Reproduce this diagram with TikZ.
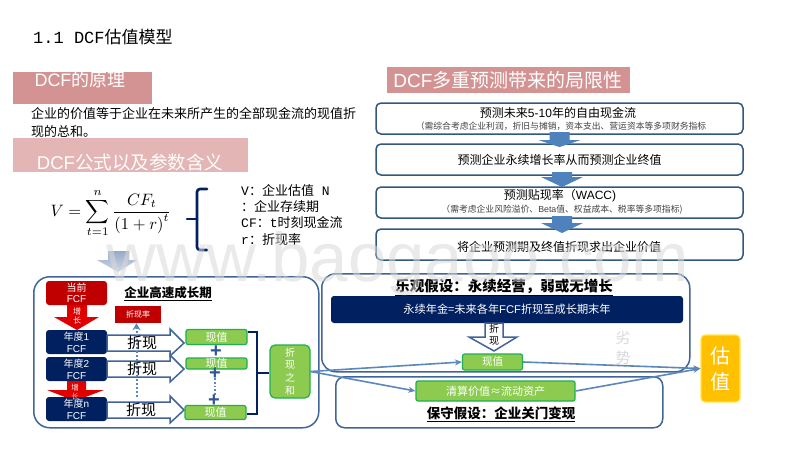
\documentclass[tikz,border=0pt]{standalone}
\usepackage{graphicx}
\usepackage{fontspec}
\setmainfont{Noto Sans CJK SC}
\newfontfamily\lat{Liberation Sans}
\newfontfamily\mon{Liberation Mono}
\newcommand{\fz}[2]{\fontsize{#1}{#2}\selectfont}
\newcommand{\la}[1]{{\lat #1}}
\newcommand{\mo}[1]{{\mon #1}}
\newcommand{\fc}{\symbol{"FF1A}}
\newcommand{\fk}{\symbol{"FF0C}}
\newcommand{\lp}{\symbol{"FF08}}
\definecolor{bannerA}{HTML}{D49393}
\definecolor{bannerB}{HTML}{E4B5B5}
\definecolor{frameblue}{HTML}{41659A}
\definecolor{procline}{HTML}{31587F}
\definecolor{procarrow}{HTML}{4F81BD}
\definecolor{linkblue}{HTML}{5B87BD}
\definecolor{navy}{HTML}{002060}
\definecolor{fcfred}{HTML}{C00000}
\definecolor{arrowred}{HTML}{E00000}
\definecolor{gfill}{HTML}{8CCB50}
\definecolor{gline}{HTML}{1DB050}
\definecolor{gold}{HTML}{FFC000}
\definecolor{goldline}{HTML}{FFE45C}
\definecolor{plusblue}{HTML}{2F5597}
\usetikzlibrary{arrows.meta,calc}
\tikzset{
  banner/.style={text=white,inner sep=0pt},
  frame/.style={draw=frameblue,line width=1.5pt,rounded corners=14pt,fill=white},
  proc/.style={draw=procline,line width=1.5pt,rounded corners=5pt,fill=white,text=black,align=center},
  fcf/.style={fill=navy,rounded corners=3pt,text=white,align=center,font=\fz{10}{12}},
  redbox/.style={fill=fcfred,text=white,align=center},
  green/.style={draw=gline,line width=1.2pt,fill=gfill,rounded corners=2pt,text=white,align=center},
  link/.style={draw=linkblue,line width=1.6pt,-{Stealth[length=7pt,width=6pt]}},
  hollow/.style={draw=frameblue,line width=1.5pt,fill=white},
}
\newcommand{\hollowright}[1]{%
  \path[hollow] (107,#1-8)--(170,#1-8)--(170,#1-14)--(184,#1)--(170,#1+13)--(170,#1+8)--(107,#1+8)--cycle;}
\newcommand{\procdown}[5]{% x, top, headstart, tip, halfwidth
  \fill[procarrow] (#1-10,#2)--(#1+10,#2)--(#1+10,#3)--(#1+#5,#3)--(#1,#4)--(#1-#5,#3)--(#1-10,#3)--cycle;}
\begin{document}
\begin{tikzpicture}[x=1pt,y=-1pt]
\useasboundingbox (0,0) rectangle (800,450);
\fill[white] (0,0) rectangle (800,450);

% Title
\node[anchor=west,inner sep=0pt] (title) at (33,37) {\fz{17}{20}\mo{1.1 DCF}估值模型};

% Left banners and text
\node[banner,fill=bannerA,minimum width=139pt,minimum height=32pt,anchor=north west] (bannerOne) at (13,72) {};
\node[banner] (bannerOneText) at (80,80) {\fz{18}{20}\la{DCF}的原理};
\node[anchor=north west,inner sep=0pt,align=left,font=\fz{13}{18}] (bodyText) at (31,107) {企业的价值等于企业在未来所产生的全部现金流的现值折\\现的总和。};
\node[banner,fill=bannerB,minimum width=235pt,minimum height=34pt,anchor=north west] (bannerTwo) at (13,138) {};
\node[banner] (bannerTwoText) at (130,162) {\fz{18.5}{20}\la{DCF}公式以及参数含义};

% Formula
\node[inner sep=0pt] (formula) at (111,213) {\scalebox{1.65}{$\displaystyle V=\sum_{t=1}^{n}\frac{CF_t}{\left(1+r\right)^t}$}};
\coordinate (braceTop) at (207,189);
\coordinate (braceBot) at (207,250);
\coordinate (braceTip) at (187,219);
\draw[navy,line width=2.6pt,line cap=round,rounded corners=3pt] (braceTop)--(197,189)--(197,250)--(braceBot);
\draw[navy,line width=2.6pt,line cap=round] (braceTip)--(197,219);
\node[anchor=north west,inner sep=0pt,align=left,font=\fz{13}{16.3}] (params) at (241,184) {\mo{V}\fc 企业估值\mo{ N}\\\fc 企业存续期\\\mo{CF}\fc\mo{t}时刻现金流\\\mo{r}\fc 折现率};

% Down arrow to lower block
\shade[top color=frameblue!55,bottom color=frameblue!25] (108,251)--(129,251)--(129,260)--(137,260)--(118,272)--(97,260)--(108,260)--cycle;

% Left frame
\node[frame,rounded corners=16pt,minimum width=285pt,minimum height=151pt,anchor=north west,inner sep=0pt] (leftFrame) at (33,276) {};
\node[inner sep=0pt] (growthTitle) at (168,294) {\fz{12.5}{14}\bfseries\underline{企业高速成长期}};

% Red arrow 1
\fill[arrowred] (67,305)--(87,305)--(87,317)--(99,317)--(77,330)--(54,317)--(67,317)--cycle;
\node[text=white,inner sep=0pt,align=center,font=\fz{8}{9}] (growOne) at (77,316) {增\\长};
% FCF boxes
\node[redbox,rounded corners=3pt,minimum width=61pt,minimum height=24pt,inner sep=0pt,font=\fz{10}{11.5}] (cur) at (76.5,293) {当前\\\la{FCF}};
\node[redbox,minimum width=46pt,minimum height=17pt,inner sep=0pt,font=\fz{8}{9}] (rateBox) at (138,314.5) {折现率};
\node[fcf,minimum width=61pt,minimum height=24pt,inner sep=0pt] (y1) at (76.5,342) {年度\la{1}\\\la{FCF}};
\node[fcf,minimum width=61pt,minimum height=24pt,inner sep=0pt] (y2) at (76.5,369) {年度\la{2}\\\la{FCF}};
% Red arrow 2
\fill[arrowred] (67,381)--(86,381)--(86,390)--(104,390)--(75,401)--(47,390)--(67,390)--cycle;
\node[fcf,minimum width=61pt,minimum height=24pt,inner sep=0pt] (yn) at (76.5,409) {年度\la{n}\\\la{FCF}};
\node[text=white,inner sep=0pt,align=center,font=\fz{7.5}{9.5}] (growTwo) at (75,392) {增\\\textcolor{white!75!arrowred}{长}};

% Hollow arrows
\hollowright{343}
\hollowright{369}
\hollowright{410}
% Dotted up arrow
\coordinate (dotStart) at (136.5,397);
\draw[linkblue,line width=2pt,dotted,-{Stealth[length=7pt,width=8pt]}] (dotStart) -- (dotStart |- rateBox.south);
\node[inner sep=0pt] (dOne) at (142,343) {\fz{15}{16}折现};
\node[inner sep=0pt] (dTwo) at (142,369) {\fz{15}{16}折现};
\node[inner sep=0pt] (dThree) at (141,410) {\fz{15}{16}折现};

% Present values
\node[green,minimum width=61pt,minimum height=15pt,inner sep=0pt,font=\fz{11}{12}] (pv1) at (216.5,337) {现值};
\node[green,minimum width=61pt,minimum height=11pt,inner sep=0pt,font=\fz{11}{12}] (pv2) at (216.5,363.5) {现值};
\node[green,minimum width=61pt,minimum height=14pt,inner sep=0pt,font=\fz{11}{12}] (pv3) at (215.5,412.5) {现值};
\draw[linkblue,line width=1.8pt,dotted] (215,378) -- (215,396);
\node[text=plusblue,inner sep=0pt] (plusA) at (216,351.5) {\fz{20}{20}\bfseries\lat +};
\node[text=plusblue,inner sep=0pt] (plusB) at (215,374) {\fz{20}{20}\bfseries\lat +};
\node[text=plusblue,inner sep=0pt] (plusC) at (214,401) {\fz{20}{20}\bfseries\lat +};
% Sum
\node[green,rounded corners=5pt,minimum width=40pt,minimum height=53pt,inner sep=0pt,font=\fz{10}{12.8}] (sum) at (290,371.5) {折\\现\\之\\和};
\draw[navy,line width=1.6pt] (pv1.east |- 0,332) -- (257,332) -- (257,414) -- (pv3.east |- 0,414);
\draw[navy,line width=1.6pt] (257,373) -- (sum.west |- 0,373);

% Right frames
\node[frame,minimum width=368pt,minimum height=98pt,anchor=north west,inner sep=0pt] (upFrame) at (321,273) {};
\node[frame,rounded corners=9pt,minimum width=327pt,minimum height=51pt,anchor=north west,inner sep=0pt] (lowFrame) at (335,376) {};
\node[inner sep=0pt] (upTitle) at (504,287) {\fz{14.5}{16}\bfseries\underline{乐观假设\fc 永续经营\fk 弱或无增长}};
\node[fill=navy,rounded corners=3pt,minimum width=352pt,minimum height=27pt,inner sep=0pt,text=white,font=\fz{11.2}{12}] (perp) at (507,309.5) {永续年金={}未来各年\la{FCF}折现至成长期末年};
\path[hollow] (485,323)--(503,323)--(503,337)--(517,337)--(494,351)--(469,337)--(485,337)--cycle;
\node[inner sep=0pt,align=center,font=\fz{10}{12}] (dDown) at (494,335) {折\\现};
\node[green,minimum width=60pt,minimum height=16pt,inner sep=0pt,font=\fz{10.5}{12}] (pvUp) at (492.5,362) {现值};
\node[text=black!15,inner sep=0pt,align=center,font=\fz{15}{20}] (weak) at (623,348) {劣\\势};
\node[green,minimum width=159pt,minimum height=20pt,inner sep=0pt,font=\fz{11}{12}] (liq) at (495.5,391) {清算价值≈流动资产};
\node[inner sep=0pt] (lowTitle) at (501,414) {\fz{13.5}{15}\bfseries\underline{保守假设\fc 企业关门变现}};
\node[draw=goldline,line width=1.2pt,fill=gold,rounded corners=4pt,minimum width=39pt,minimum height=67pt,inner sep=0pt,text=white,align=center,font=\fz{20}{26}] (val) at (720.5,368.5) {估\\值};

% Links
\draw[link] (sum.east) -- (pvUp.west);
\draw[link] (sum.east) -- (liq.west);
\draw[link] (pvUp.east) -- (val.west);
\draw[link] (liq.east) -- (val.west);

% Top right
\node[banner,fill=bannerA,minimum width=243pt,minimum height=26pt] (bannerThree) at (508,80) {\fz{19}{21}\la{DCF}多重预测带来的局限性};
\node[proc,minimum width=367pt,minimum height=31pt,inner sep=0pt] (p1) at (559.5,118.5) {};
\node[proc,minimum width=367pt,minimum height=31pt,inner sep=0pt] (p2) at (559.5,159.5) {\fz{12}{14}预测企业永续增长率从而预测企业终值};
\node[proc,minimum width=367pt,minimum height=31pt,inner sep=0pt] (p3) at (559.5,202.5) {};
\node[proc,minimum width=367pt,minimum height=31pt,inner sep=0pt] (p4) at (559.5,244.5) {};
\node[inner sep=0pt] (p4a) at (559,247) {\fz{12}{14}将企业预测期及终值折现求出企业价值};
\node[inner sep=0pt] (p1a) at (558,113) {\fz{12}{14}预测未来\la{5-10}年的自由现金流};
\node[inner sep=0pt,text=black!75] (p1b) at (561,126) {\fz{8.8}{10}\lp 需综合考虑企业利润\fk 折旧与摊销\fk 资本支出、营运资本等多项财务指标};
\node[inner sep=0pt] (p3a) at (560,196) {\fz{12}{14}预测贴现率\lp\la{WACC)}};
\node[inner sep=0pt,text=black!75] (p3b) at (562,210) {\fz{8.8}{10}\lp 需考虑企业风险溢价、\la{Beta}值、权益成本、税率等多项指标)};
\procdown{559.5}{132}{140}{147}{21}
\procdown{562}{172}{177}{187}{21}
\procdown{562}{216}{223}{233}{21}

% Watermark
\node[inner sep=0pt,text=black!15,opacity=0.55] (wm) at (398,264) {\fontsize{69}{72}\lat www.baogaoo.com};
\end{tikzpicture}
\end{document}
